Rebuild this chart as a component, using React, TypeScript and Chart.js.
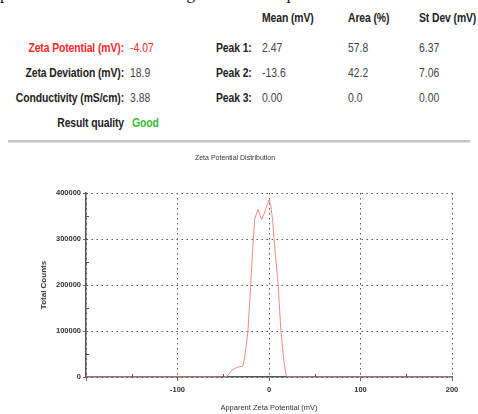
import React, { useEffect, useRef } from "react";
import { Chart, registerables } from "chart.js";

Chart.register(...registerables);

// Distribution curve (Apparent Zeta Potential in mV vs Total Counts)
const potentialMv = [-200, -47, -45, -41, -35, -28.5, -26, -23, -20, -17.2, -15.5, -12, -8, -4, 0, 2, 4, 5.5, 10, 13, 16, 18.5, 20, 200];
const totalCounts = [0, 0, 3000, 14000, 21000, 24000, 50000, 100000, 200000, 300000, 345000, 364000, 342000, 362000, 385000, 372000, 340000, 300000, 200000, 100000, 40000, 5000, 0, 0];

const xMin = -200;
const xMax = 200;
const xStep = 100;
const yMin = 0;
const yMax = 400000;
const yStep = 100000;
const xMinorTicks = [-150, -50, 50, 150];
const yMinorTicks = [50000, 150000, 250000, 350000];

const chartTitle = "Zeta Potential Distribution";
const xTitle = "Apparent Zeta Potential (mV)";
const yTitle = "Total Counts";

const introText = "particles surface charge. Zeta potential values of the";

const summaryLabels = ["Zeta Potential (mV):", "Zeta Deviation (mV):", "Conductivity (mS/cm):", "Result quality"];
const summaryValues = ["-4.07", "18.9", "3.88", "Good"];
const tableHeaders = ["Mean (mV)", "Area (%)", "St Dev (mV)"];
const peakLabels = ["Peak 1:", "Peak 2:", "Peak 3:"];
const peakMeans = ["2.47", "-13.6", "0.00"];
const peakAreas = ["57.8", "42.2", "0.0"];
const peakStDevs = ["6.37", "7.06", "0.00"];

const SANS = "'Liberation Sans', Arial, sans-serif";

const rowY = [49, 74, 99, 124];
const headerY = 19;
const colLeft = [262, 348, 419];

function Txt(props: { x: number; y: number; text: string; color?: string; bold?: boolean; right?: boolean }) {
  const { x, y, text, color = "#222", bold = true, right = false } = props;
  const style: React.CSSProperties = {
    position: "absolute",
    top: y - 7,
    height: 14,
    lineHeight: "14px",
    fontFamily: SANS,
    fontSize: 10.4,
    fontWeight: bold ? 700 : 400,
    letterSpacing: bold ? "-0.1px" : "0px",
    color,
    whiteSpace: "nowrap",
    transform: "scaleY(1.15)",
    transformOrigin: "50% 50%",
  };
  if (right) {
    style.right = 478 - x;
    style.textAlign = "right";
  } else {
    style.left = x;
  }
  return <div style={style}>{text}</div>;
}

const minorTicksPlugin = {
  id: "minorTicks",
  afterDatasetsDraw(chart: any) {
    const { ctx, scales } = chart;
    const xs = scales.x;
    const ys = scales.y;
    ctx.save();
    ctx.strokeStyle = "#555";
    ctx.lineWidth = 1;
    ctx.beginPath();
    xMinorTicks.forEach((v) => {
      const px = Math.round(xs.getPixelForValue(v)) + 0.5;
      ctx.moveTo(px, ys.bottom);
      ctx.lineTo(px, ys.bottom - 3);
    });
    yMinorTicks.forEach((v) => {
      const py = Math.round(ys.getPixelForValue(v)) + 0.5;
      ctx.moveTo(xs.left, py);
      ctx.lineTo(xs.left + 3, py);
    });
    ctx.stroke();
    ctx.restore();
  },
};

export default function App() {
  const canvasRef = useRef<HTMLCanvasElement | null>(null);

  useEffect(() => {
    const canvas = canvasRef.current;
    if (!canvas) return;
    const gridDash = [1.5, 3.5];
    const chart = new Chart(canvas, {
      type: "line",
      data: {
        datasets: [
          {
            data: potentialMv.map((x, i) => ({ x, y: totalCounts[i] })),
            borderColor: "#ec8a8a",
            borderWidth: 1,
            pointRadius: 0,
            tension: 0,
            fill: false,
          },
        ],
      },
      plugins: [minorTicksPlugin],
      options: {
        animation: false,
        responsive: false,
        events: [],
        layout: { padding: { left: 0, right: 26, top: 0, bottom: 0 } },
        plugins: {
          legend: { display: false },
          tooltip: { enabled: false },
          title: {
            display: true,
            text: chartTitle,
            color: "#333",
            font: { family: SANS, size: 7, weight: "normal" },
            padding: { top: 8.8, bottom: 30.8 },
          },
        },
        scales: {
          x: {
            type: "linear",
            min: xMin,
            max: xMax,
            afterFit: (s: any) => {
              s.height = 37;
            },
            ticks: {
              stepSize: xStep,
              autoSkip: false,
              maxRotation: 0,
              padding: 4.5,
              color: "#333",
              font: { family: SANS, size: 7.5, weight: "bold" },
              callback: (v: any) => (Number(v) === xMin ? "" : String(v)),
            },
            grid: { color: "#555", tickLength: 4, tickColor: "#666", tickBorderDash: [] },
            border: { display: true, color: "#555", width: 1.5, dash: gridDash },
            title: {
              display: true,
              text: xTitle,
              color: "#333",
              font: { family: SANS, size: 7.5, weight: "normal" },
              padding: { top: 0, bottom: 1.5 },
            },
          },
          y: {
            type: "linear",
            min: yMin,
            max: yMax,
            afterFit: (s: any) => {
              s.width = 68;
            },
            ticks: {
              stepSize: yStep,
              padding: 2,
              color: "#333",
              font: { family: SANS, size: 7.5, weight: "bold" },
              callback: (v: any) => String(v),
            },
            grid: { color: "#555", tickLength: 3, tickColor: "#666", tickBorderDash: [] },
            border: { display: true, color: "#555", width: 1.5, dash: gridDash },
            title: {
              display: true,
              text: yTitle,
              color: "#333",
              font: { family: SANS, size: 8, weight: "bold" },
              padding: { top: 21, bottom: 0 },
            },
          },
        },
      },
    } as any);
    return () => chart.destroy();
  }, []);

  return (
    <div style={{ position: "absolute", left: 0, top: 0, width: 478, height: 414, overflow: "hidden", background: "#fff" }}>
      <div
        style={{
          position: "absolute",
          left: 0,
          top: -15.5,
          fontFamily: "'Liberation Serif', 'Times New Roman', serif",
          fontSize: 17.3,
          lineHeight: "17.3px",
          wordSpacing: "20px",
          color: "#111",
          whiteSpace: "nowrap",
        }}
      >
        {introText}
      </div>

      {tableHeaders.map((h, i) => (
        <Txt key={"h" + i} x={colLeft[i]} y={headerY} text={h} />
      ))}

      {summaryLabels.map((l, i) => (
        <Txt key={"sl" + i} x={124} y={rowY[i]} text={l} right color={i === 0 ? "#ff2a2a" : "#222"} />
      ))}
      {summaryValues.map((v, i) => (
        <Txt
          key={"sv" + i}
          x={i === 3 ? 132 : 130}
          y={rowY[i]}
          text={v}
          bold={i === 3}
          color={i === 0 ? "#ff2a2a" : i === 3 ? "#33c033" : "#444"}
        />
      ))}

      {peakLabels.map((p, i) => (
        <Txt key={"pl" + i} x={216} y={rowY[i]} text={p} />
      ))}
      {peakMeans.map((v, i) => (
        <Txt key={"pm" + i} x={colLeft[0]} y={rowY[i]} text={v} bold={false} color="#444" />
      ))}
      {peakAreas.map((v, i) => (
        <Txt key={"pa" + i} x={colLeft[1]} y={rowY[i]} text={v} bold={false} color="#444" />
      ))}
      {peakStDevs.map((v, i) => (
        <Txt key={"ps" + i} x={colLeft[2]} y={rowY[i]} text={v} bold={false} color="#444" />
      ))}

      <div
        style={{
          position: "absolute",
          left: 8,
          top: 139.5,
          width: 462,
          height: 2,
          background: "#c4c4c4",
          boxShadow: "0 1px 1px #e0e0e0",
        }}
      />

      <canvas
        ref={canvasRef}
        width={460}
        height={269}
        style={{ position: "absolute", left: 18, top: 145, width: 460, height: 269 }}
      />
    </div>
  );
}
